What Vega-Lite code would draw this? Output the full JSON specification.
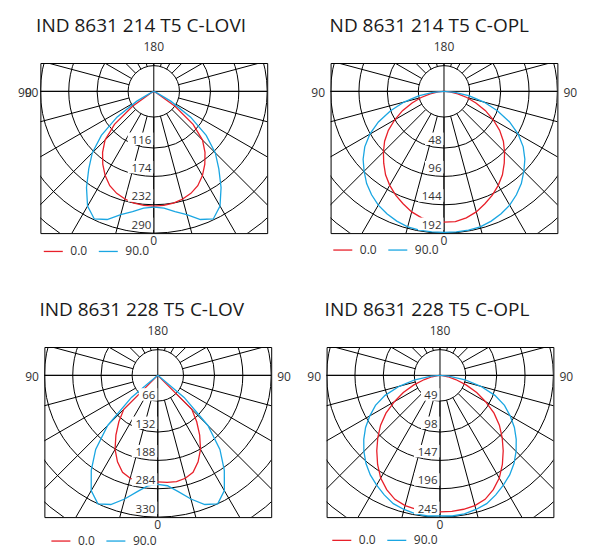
{
"$schema": "https://vega.github.io/schema/vega-lite/v6.json",
"padding": {"left": 17, "top": 16, "right": 0, "bottom": 0},
"background": "white",
"config": {"view": {"stroke": "black", "strokeWidth": 1}, "text": {"font": "Open Sans"}},
"datasets": {
 "rings": [{"k": 0.9065}, {"k": 2}, {"k": 3}, {"k": 4}, {"k": 5}, {"k": 6}],
 "spokes": [{"a":0},{"a":15},{"a":30},{"a":45},{"a":60},{"a":75},{"a":90},{"a":105},{"a":120},{"a":135},{"a":150},{"a":165},{"a":180},{"a":195},{"a":210},{"a":225},{"a":240},{"a":255},{"a":270},{"a":285},{"a":300},{"a":315},{"a":330},{"a":345}],
 "one": [{}],
 "c1": [
  {"g":0,"I":235,"c":"0.0"},{"g":5,"I":234,"c":"0.0"},{"g":10,"I":232,"c":"0.0"},{"g":15,"I":228,"c":"0.0"},{"g":20,"I":222,"c":"0.0"},{"g":25,"I":213,"c":"0.0"},{"g":30,"I":199,"c":"0.0"},{"g":35,"I":182,"c":"0.0"},{"g":40,"I":163,"c":"0.0"},{"g":45,"I":141,"c":"0.0"},{"g":50,"I":105,"c":"0.0"},{"g":55,"I":53,"c":"0.0"},{"g":60,"I":5,"c":"0.0"},{"g":65,"I":0,"c":"0.0"},{"g":70,"I":0,"c":"0.0"},{"g":75,"I":0,"c":"0.0"},{"g":80,"I":0,"c":"0.0"},{"g":85,"I":0,"c":"0.0"},{"g":90,"I":0,"c":"0.0"},
  {"g":0,"I":237,"c":"90.0"},{"g":5,"I":240,"c":"90.0"},{"g":10,"I":250,"c":"90.0"},{"g":15,"I":261,"c":"90.0"},{"g":20,"I":279,"c":"90.0"},{"g":25,"I":288,"c":"90.0"},{"g":30,"I":271,"c":"90.0"},{"g":35,"I":240,"c":"90.0"},{"g":40,"I":207,"c":"90.0"},{"g":45,"I":178,"c":"90.0"},{"g":50,"I":140,"c":"90.0"},{"g":55,"I":92,"c":"90.0"},{"g":60,"I":40,"c":"90.0"},{"g":65,"I":5,"c":"90.0"},{"g":70,"I":0,"c":"90.0"},{"g":75,"I":0,"c":"90.0"},{"g":80,"I":0,"c":"90.0"},{"g":85,"I":0,"c":"90.0"},{"g":90,"I":0,"c":"90.0"}],
 "c2": [
  {"g":0,"I":177,"c":"0.0"},{"g":5,"I":177,"c":"0.0"},{"g":10,"I":174,"c":"0.0"},{"g":15,"I":169,"c":"0.0"},{"g":20,"I":162,"c":"0.0"},{"g":25,"I":155,"c":"0.0"},{"g":30,"I":147,"c":"0.0"},{"g":35,"I":138,"c":"0.0"},{"g":40,"I":127,"c":"0.0"},{"g":45,"I":116,"c":"0.0"},{"g":50,"I":105,"c":"0.0"},{"g":55,"I":92,"c":"0.0"},{"g":60,"I":77,"c":"0.0"},{"g":65,"I":62,"c":"0.0"},{"g":70,"I":46,"c":"0.0"},{"g":75,"I":32,"c":"0.0"},{"g":80,"I":19,"c":"0.0"},{"g":85,"I":8,"c":"0.0"},{"g":90,"I":0,"c":"0.0"},
  {"g":0,"I":191,"c":"90.0"},{"g":5,"I":191,"c":"90.0"},{"g":10,"I":191,"c":"90.0"},{"g":15,"I":190,"c":"90.0"},{"g":20,"I":187,"c":"90.0"},{"g":25,"I":183,"c":"90.0"},{"g":30,"I":178,"c":"90.0"},{"g":35,"I":171,"c":"90.0"},{"g":40,"I":163,"c":"90.0"},{"g":45,"I":153,"c":"90.0"},{"g":50,"I":143,"c":"90.0"},{"g":55,"I":131,"c":"90.0"},{"g":60,"I":116,"c":"90.0"},{"g":65,"I":98,"c":"90.0"},{"g":70,"I":77,"c":"90.0"},{"g":75,"I":56,"c":"90.0"},{"g":80,"I":35,"c":"90.0"},{"g":85,"I":15,"c":"90.0"},{"g":90,"I":0,"c":"90.0"}],
 "c3": [
  {"g":0,"I":248,"c":"0.0"},{"g":5,"I":250,"c":"0.0"},{"g":10,"I":251,"c":"0.0"},{"g":15,"I":248,"c":"0.0"},{"g":20,"I":240,"c":"0.0"},{"g":25,"I":222,"c":"0.0"},{"g":30,"I":199,"c":"0.0"},{"g":35,"I":170,"c":"0.0"},{"g":40,"I":141,"c":"0.0"},{"g":45,"I":112,"c":"0.0"},{"g":50,"I":0,"c":"0.0"},{"g":55,"I":0,"c":"0.0"},{"g":60,"I":0,"c":"0.0"},{"g":65,"I":0,"c":"0.0"},{"g":70,"I":0,"c":"0.0"},{"g":75,"I":0,"c":"0.0"},{"g":80,"I":0,"c":"0.0"},{"g":85,"I":0,"c":"0.0"},{"g":90,"I":0,"c":"0.0"},
  {"g":0,"I":254,"c":"90.0"},{"g":5,"I":258,"c":"90.0"},{"g":10,"I":275,"c":"90.0"},{"g":15,"I":298,"c":"90.0"},{"g":20,"I":320,"c":"90.0"},{"g":25,"I":330,"c":"90.0"},{"g":30,"I":310,"c":"90.0"},{"g":35,"I":270,"c":"90.0"},{"g":40,"I":225,"c":"90.0"},{"g":45,"I":165,"c":"90.0"},{"g":50,"I":80,"c":"90.0"},{"g":55,"I":0,"c":"90.0"},{"g":60,"I":0,"c":"90.0"},{"g":65,"I":0,"c":"90.0"},{"g":70,"I":0,"c":"90.0"},{"g":75,"I":0,"c":"90.0"},{"g":80,"I":0,"c":"90.0"},{"g":85,"I":0,"c":"90.0"},{"g":90,"I":0,"c":"90.0"}],
 "c4": [
  {"g":0,"I":236,"c":"0.0"},{"g":5,"I":236,"c":"0.0"},{"g":10,"I":235,"c":"0.0"},{"g":15,"I":233,"c":"0.0"},{"g":20,"I":228,"c":"0.0"},{"g":25,"I":218,"c":"0.0"},{"g":30,"I":205,"c":"0.0"},{"g":35,"I":188,"c":"0.0"},{"g":40,"I":170,"c":"0.0"},{"g":45,"I":152,"c":"0.0"},{"g":50,"I":134,"c":"0.0"},{"g":55,"I":114,"c":"0.0"},{"g":60,"I":91,"c":"0.0"},{"g":65,"I":70,"c":"0.0"},{"g":70,"I":48,"c":"0.0"},{"g":75,"I":28,"c":"0.0"},{"g":80,"I":14,"c":"0.0"},{"g":85,"I":4,"c":"0.0"},{"g":90,"I":0,"c":"0.0"},
  {"g":0,"I":243,"c":"90.0"},{"g":5,"I":244,"c":"90.0"},{"g":10,"I":243,"c":"90.0"},{"g":15,"I":240,"c":"90.0"},{"g":20,"I":236,"c":"90.0"},{"g":25,"I":228,"c":"90.0"},{"g":30,"I":219,"c":"90.0"},{"g":35,"I":210,"c":"90.0"},{"g":40,"I":199,"c":"90.0"},{"g":45,"I":186,"c":"90.0"},{"g":50,"I":172,"c":"90.0"},{"g":55,"I":157,"c":"90.0"},{"g":60,"I":140,"c":"90.0"},{"g":65,"I":123,"c":"90.0"},{"g":70,"I":101,"c":"90.0"},{"g":75,"I":73,"c":"90.0"},{"g":80,"I":44,"c":"90.0"},{"g":85,"I":15,"c":"90.0"},{"g":90,"I":0,"c":"90.0"}],
 "l1": [{"r":116,"t":"116"},{"r":174,"t":"174"},{"r":232,"t":"232"},{"r":290,"t":"290"}],
 "l2": [{"r":76.8,"t":"48"},{"r":115.2,"t":"96"},{"r":153.6,"t":"144"},{"r":192,"t":"192"}],
 "l3": [{"r":66,"t":"66"},{"r":132,"t":"132"},{"r":198,"t":"188"},{"r":264,"t":"284"},{"r":330,"t":"330"}],
 "l4": [{"r":49,"t":"49"},{"r":98,"t":"98"},{"r":147,"t":"147"},{"r":196,"t":"196"},{"r":245,"t":"245"}]
},
"resolve": {"legend": {"color": "independent"}},
"spacing": 41,
"center": true,
"vconcat": [
{"hconcat": [
 {"width": 226.8, "height": 170.1,
  "title": {"text": "IND 8631 214 T5 C-LOVI", "anchor": "start", "frame": "group", "dx": -4.3, "offset": -10, "fontSize": 19, "font": "Open Sans", "fontWeight": "normal", "color": "#1a1a1a", "baseline": "alphabetic"},
  "layer": [
   {"data": {"name": "rings"}, "mark": {"type": "point", "shape": "circle", "filled": false, "stroke": "black", "strokeWidth": 1, "opacity": 1, "clip": true},
    "encoding": {"x": {"datum": 0, "type": "quantitative", "scale": {"domain": [-232, 232], "nice": false, "zero": false}, "axis": null},
     "y": {"datum": 0, "type": "quantitative", "scale": {"domain": [-58, 290], "nice": false, "zero": false, "reverse": true}, "axis": null},
     "size": {"field": "k", "type": "quantitative", "scale": {"type": "pow", "exponent": 2, "domain": [0, 6], "range": [0, 115736]}, "legend": null}}},
   {"data": {"name": "spokes"}, "transform": [
     {"calculate": "52.58*sin(datum.a*PI/180)", "as": "x1"}, {"calculate": "52.58*cos(datum.a*PI/180)", "as": "y1"},
     {"calculate": "406*sin(datum.a*PI/180)", "as": "x2"}, {"calculate": "406*cos(datum.a*PI/180)", "as": "y2"}],
    "mark": {"type": "rule", "color": "black", "strokeWidth": 1, "clip": true},
    "encoding": {"x": {"field": "x1", "type": "quantitative", "axis": null}, "y": {"field": "y1", "type": "quantitative", "axis": null}, "x2": {"field": "x2"}, "y2": {"field": "y2"}}},
   {"data": {"name": "one"}, "mark": {"type": "rule", "color": "black", "strokeWidth": 1}, "encoding": {"y": {"datum": 0, "type": "quantitative", "axis": null}}},
   {"data": {"name": "one"}, "mark": {"type": "rule", "color": "black", "strokeWidth": 1}, "encoding": {"x": {"datum": 0, "type": "quantitative", "axis": null}}},
   {"data": {"name": "c1"}, "transform": [
     {"calculate": "datum.I*sin(datum.g*PI/180)", "as": "R"}, {"calculate": "-datum.I*sin(datum.g*PI/180)", "as": "L"},
     {"calculate": "datum.I*cos(datum.g*PI/180)", "as": "y"}, {"fold": ["R", "L"], "as": ["side", "x"]}],
    "mark": {"type": "line", "strokeWidth": 1.3, "clip": true},
    "encoding": {"x": {"field": "x", "type": "quantitative", "axis": null}, "y": {"field": "y", "type": "quantitative", "axis": null},
     "color": {"field": "c", "type": "nominal", "scale": {"domain": ["0.0", "90.0"], "range": ["#e8202a", "#1aa6e2"]},
      "legend": {"orient": "none", "legendX": 2.4, "legendY": 177.7, "direction": "horizontal", "title": null, "symbolType": "stroke", "symbolSize": 361, "symbolStrokeWidth": 1.3, "labelFontSize": 12, "labelFont": "Open Sans", "labelColor": "#333", "labelOffset": 6.5, "columnPadding": 8, "padding": 0}},
     "detail": {"field": "side", "type": "nominal"}, "order": {"field": "g", "type": "quantitative"}}},
   {"data": {"name": "l1"}, "mark": {"type": "point", "filled": true, "fill": "white", "strokeWidth": 0, "opacity": 1, "size": 4},
    "encoding": {"x": {"datum": 0, "type": "quantitative", "axis": null}, "y": {"field": "r", "type": "quantitative", "axis": null},
     "shape": {"condition": {"test": "length(datum.t) > 2", "value": "M-26,-15.5H-0.5V-3H-26Z"}, "value": "M-19,-15.5H-0.5V-3H-19Z"}}},
   {"data": {"name": "l1"}, "mark": {"type": "text", "align": "right", "baseline": "alphabetic", "dx": -2.5, "dy": -4.5, "fontSize": 11.5, "font": "Open Sans", "color": "#333"},
    "encoding": {"x": {"datum": 0, "type": "quantitative", "axis": null}, "y": {"field": "r", "type": "quantitative", "axis": null}, "text": {"field": "t"}}},
   {"data": {"name": "one"}, "mark": {"type": "text", "baseline": "alphabetic", "dy": -12.5, "fontSize": 12, "font": "Open Sans", "color": "#333"},
    "encoding": {"x": {"datum": 0, "type": "quantitative", "axis": null}, "y": {"datum": -58, "type": "quantitative", "axis": null}, "text": {"value": "180"}}},
   {"data": {"name": "one"}, "mark": {"type": "text", "baseline": "alphabetic", "dy": 11.8, "fontSize": 12, "font": "Open Sans", "color": "#333"},
    "encoding": {"x": {"datum": 0, "type": "quantitative", "axis": null}, "y": {"datum": 290, "type": "quantitative", "axis": null}, "text": {"value": "0"}}},
   {"data": {"name": "one"}, "mark": {"type": "text", "align": "right", "baseline": "alphabetic", "dx": -2, "dy": 5.3, "fontSize": 12, "font": "Open Sans", "color": "#333"},
    "encoding": {"x": {"datum": -232, "type": "quantitative", "axis": null}, "y": {"datum": 0, "type": "quantitative", "axis": null}, "text": {"value": "90"}}},
   {"data": {"name": "one"}, "mark": {"type": "text", "align": "right", "baseline": "alphabetic", "dx": -8.6, "dy": 5.3, "fontSize": 12, "font": "Open Sans", "color": "#333"},
    "encoding": {"x": {"datum": -232, "type": "quantitative", "axis": null}, "y": {"datum": 0, "type": "quantitative", "axis": null}, "text": {"value": "90"}}}
  ]},
 {"width": 226.8, "height": 170.1,
  "title": {"text": "ND 8631 214 T5 C-OPL", "anchor": "start", "frame": "group", "dx": -1, "offset": -10, "fontSize": 19, "font": "Open Sans", "fontWeight": "normal", "color": "#1a1a1a", "baseline": "alphabetic"},
  "layer": [
   {"data": {"name": "rings"}, "mark": {"type": "point", "shape": "circle", "filled": false, "stroke": "black", "strokeWidth": 1, "opacity": 1, "clip": true},
    "encoding": {"x": {"datum": 0, "type": "quantitative", "scale": {"domain": [-153.6, 153.6], "nice": false, "zero": false}, "axis": null},
     "y": {"datum": 0, "type": "quantitative", "scale": {"domain": [-38.4, 192], "nice": false, "zero": false, "reverse": true}, "axis": null},
     "size": {"field": "k", "type": "quantitative", "scale": {"type": "pow", "exponent": 2, "domain": [0, 6], "range": [0, 115736]}, "legend": null}}},
   {"data": {"name": "spokes"}, "transform": [
     {"calculate": "34.81*sin(datum.a*PI/180)", "as": "x1"}, {"calculate": "34.81*cos(datum.a*PI/180)", "as": "y1"},
     {"calculate": "268.8*sin(datum.a*PI/180)", "as": "x2"}, {"calculate": "268.8*cos(datum.a*PI/180)", "as": "y2"}],
    "mark": {"type": "rule", "color": "black", "strokeWidth": 1, "clip": true},
    "encoding": {"x": {"field": "x1", "type": "quantitative", "axis": null}, "y": {"field": "y1", "type": "quantitative", "axis": null}, "x2": {"field": "x2"}, "y2": {"field": "y2"}}},
   {"data": {"name": "one"}, "mark": {"type": "rule", "color": "black", "strokeWidth": 1}, "encoding": {"y": {"datum": 0, "type": "quantitative", "axis": null}}},
   {"data": {"name": "one"}, "mark": {"type": "rule", "color": "black", "strokeWidth": 1}, "encoding": {"x": {"datum": 0, "type": "quantitative", "axis": null}}},
   {"data": {"name": "c2"}, "transform": [
     {"calculate": "datum.I*sin(datum.g*PI/180)", "as": "R"}, {"calculate": "-datum.I*sin(datum.g*PI/180)", "as": "L"},
     {"calculate": "datum.I*cos(datum.g*PI/180)", "as": "y"}, {"fold": ["R", "L"], "as": ["side", "x"]}],
    "mark": {"type": "line", "strokeWidth": 1.3, "clip": true},
    "encoding": {"x": {"field": "x", "type": "quantitative", "axis": null}, "y": {"field": "y", "type": "quantitative", "axis": null},
     "color": {"field": "c", "type": "nominal", "scale": {"domain": ["0.0", "90.0"], "range": ["#e8202a", "#1aa6e2"]},
      "legend": {"orient": "none", "legendX": 1.7, "legendY": 176.3, "direction": "horizontal", "title": null, "symbolType": "stroke", "symbolSize": 361, "symbolStrokeWidth": 1.3, "labelFontSize": 12, "labelFont": "Open Sans", "labelColor": "#333", "labelOffset": 6.5, "columnPadding": 8, "padding": 0}},
     "detail": {"field": "side", "type": "nominal"}, "order": {"field": "g", "type": "quantitative"}}},
   {"data": {"name": "l2"}, "mark": {"type": "point", "filled": true, "fill": "white", "strokeWidth": 0, "opacity": 1, "size": 4},
    "encoding": {"x": {"datum": 0, "type": "quantitative", "axis": null}, "y": {"field": "r", "type": "quantitative", "axis": null},
     "shape": {"condition": {"test": "length(datum.t) > 2", "value": "M-26,-15.5H-0.5V-3H-26Z"}, "value": "M-19,-15.5H-0.5V-3H-19Z"}}},
   {"data": {"name": "l2"}, "mark": {"type": "text", "align": "right", "baseline": "alphabetic", "dx": -2.5, "dy": -4.5, "fontSize": 11.5, "font": "Open Sans", "color": "#333"},
    "encoding": {"x": {"datum": 0, "type": "quantitative", "axis": null}, "y": {"field": "r", "type": "quantitative", "axis": null}, "text": {"field": "t"}}},
   {"data": {"name": "one"}, "mark": {"type": "text", "baseline": "alphabetic", "dy": -12.5, "fontSize": 12, "font": "Open Sans", "color": "#333"},
    "encoding": {"x": {"datum": 0, "type": "quantitative", "axis": null}, "y": {"datum": -38.4, "type": "quantitative", "axis": null}, "text": {"value": "180"}}},
   {"data": {"name": "one"}, "mark": {"type": "text", "baseline": "alphabetic", "dy": 11.8, "fontSize": 12, "font": "Open Sans", "color": "#333"},
    "encoding": {"x": {"datum": 0, "type": "quantitative", "axis": null}, "y": {"datum": 192, "type": "quantitative", "axis": null}, "text": {"value": "0"}}},
   {"data": {"name": "one"}, "mark": {"type": "text", "align": "right", "baseline": "alphabetic", "dx": -5.5, "dy": 5.3, "fontSize": 12, "font": "Open Sans", "color": "#333"},
    "encoding": {"x": {"datum": -153.6, "type": "quantitative", "axis": null}, "y": {"datum": 0, "type": "quantitative", "axis": null}, "text": {"value": "90"}}},
   {"data": {"name": "one"}, "mark": {"type": "text", "align": "left", "baseline": "alphabetic", "dx": 6, "dy": 5.3, "fontSize": 12, "font": "Open Sans", "color": "#333"},
    "encoding": {"x": {"datum": 153.6, "type": "quantitative", "axis": null}, "y": {"datum": 0, "type": "quantitative", "axis": null}, "text": {"value": "90"}}}
  ]}
 ], "spacing": 63.2, "bounds": "flush", "resolve": {"legend": {"color": "independent"}}},
{"hconcat": [
 {"width": 226.8, "height": 170.1,
  "title": {"text": "IND 8631 228 T5 C-LOV", "anchor": "start", "frame": "group", "dx": -5, "offset": -10, "fontSize": 19, "font": "Open Sans", "fontWeight": "normal", "color": "#1a1a1a", "baseline": "alphabetic"},
  "layer": [
   {"data": {"name": "rings"}, "mark": {"type": "point", "shape": "circle", "filled": false, "stroke": "black", "strokeWidth": 1, "opacity": 1, "clip": true},
    "encoding": {"x": {"datum": 0, "type": "quantitative", "scale": {"domain": [-264, 264], "nice": false, "zero": false}, "axis": null},
     "y": {"datum": 0, "type": "quantitative", "scale": {"domain": [-66, 330], "nice": false, "zero": false, "reverse": true}, "axis": null},
     "size": {"field": "k", "type": "quantitative", "scale": {"type": "pow", "exponent": 2, "domain": [0, 6], "range": [0, 115736]}, "legend": null}}},
   {"data": {"name": "spokes"}, "transform": [
     {"calculate": "59.83*sin(datum.a*PI/180)", "as": "x1"}, {"calculate": "59.83*cos(datum.a*PI/180)", "as": "y1"},
     {"calculate": "462*sin(datum.a*PI/180)", "as": "x2"}, {"calculate": "462*cos(datum.a*PI/180)", "as": "y2"}],
    "mark": {"type": "rule", "color": "black", "strokeWidth": 1, "clip": true},
    "encoding": {"x": {"field": "x1", "type": "quantitative", "axis": null}, "y": {"field": "y1", "type": "quantitative", "axis": null}, "x2": {"field": "x2"}, "y2": {"field": "y2"}}},
   {"data": {"name": "one"}, "mark": {"type": "rule", "color": "black", "strokeWidth": 1}, "encoding": {"y": {"datum": 0, "type": "quantitative", "axis": null}}},
   {"data": {"name": "one"}, "mark": {"type": "rule", "color": "black", "strokeWidth": 1}, "encoding": {"x": {"datum": 0, "type": "quantitative", "axis": null}}},
   {"data": {"name": "c3"}, "transform": [
     {"calculate": "datum.I*sin(datum.g*PI/180)", "as": "R"}, {"calculate": "-datum.I*sin(datum.g*PI/180)", "as": "L"},
     {"calculate": "datum.I*cos(datum.g*PI/180)", "as": "y"}, {"fold": ["R", "L"], "as": ["side", "x"]}],
    "mark": {"type": "line", "strokeWidth": 1.3, "clip": true},
    "encoding": {"x": {"field": "x", "type": "quantitative", "axis": null}, "y": {"field": "y", "type": "quantitative", "axis": null},
     "color": {"field": "c", "type": "nominal", "scale": {"domain": ["0.0", "90.0"], "range": ["#e8202a", "#1aa6e2"]},
      "legend": {"orient": "none", "legendX": 6, "legendY": 183.3, "direction": "horizontal", "title": null, "symbolType": "stroke", "symbolSize": 361, "symbolStrokeWidth": 1.3, "labelFontSize": 12, "labelFont": "Open Sans", "labelColor": "#333", "labelOffset": 6.5, "columnPadding": 8, "padding": 0}},
     "detail": {"field": "side", "type": "nominal"}, "order": {"field": "g", "type": "quantitative"}}},
   {"data": {"name": "l3"}, "mark": {"type": "point", "filled": true, "fill": "white", "strokeWidth": 0, "opacity": 1, "size": 4},
    "encoding": {"x": {"datum": 0, "type": "quantitative", "axis": null}, "y": {"field": "r", "type": "quantitative", "axis": null},
     "shape": {"condition": {"test": "length(datum.t) > 2", "value": "M-26,-15.5H-0.5V-3H-26Z"}, "value": "M-19,-15.5H-0.5V-3H-19Z"}}},
   {"data": {"name": "l3"}, "mark": {"type": "text", "align": "right", "baseline": "alphabetic", "dx": -2.5, "dy": -4.5, "fontSize": 11.5, "font": "Open Sans", "color": "#333"},
    "encoding": {"x": {"datum": 0, "type": "quantitative", "axis": null}, "y": {"field": "r", "type": "quantitative", "axis": null}, "text": {"field": "t"}}},
   {"data": {"name": "one"}, "mark": {"type": "text", "baseline": "alphabetic", "dy": -12.5, "fontSize": 12, "font": "Open Sans", "color": "#333"},
    "encoding": {"x": {"datum": 0, "type": "quantitative", "axis": null}, "y": {"datum": -66, "type": "quantitative", "axis": null}, "text": {"value": "180"}}},
   {"data": {"name": "one"}, "mark": {"type": "text", "baseline": "alphabetic", "dy": 11.8, "fontSize": 12, "font": "Open Sans", "color": "#333"},
    "encoding": {"x": {"datum": 0, "type": "quantitative", "axis": null}, "y": {"datum": 330, "type": "quantitative", "axis": null}, "text": {"value": "0"}}},
   {"data": {"name": "one"}, "mark": {"type": "text", "align": "right", "baseline": "alphabetic", "dx": -5.5, "dy": 5.3, "fontSize": 12, "font": "Open Sans", "color": "#333"},
    "encoding": {"x": {"datum": -264, "type": "quantitative", "axis": null}, "y": {"datum": 0, "type": "quantitative", "axis": null}, "text": {"value": "90"}}},
   {"data": {"name": "one"}, "mark": {"type": "text", "align": "left", "baseline": "alphabetic", "dx": 6, "dy": 5.3, "fontSize": 12, "font": "Open Sans", "color": "#333"},
    "encoding": {"x": {"datum": 264, "type": "quantitative", "axis": null}, "y": {"datum": 0, "type": "quantitative", "axis": null}, "text": {"value": "90"}}}
  ]},
 {"width": 226.8, "height": 170.1,
  "title": {"text": "IND 8631 228 T5 C-OPL", "anchor": "start", "frame": "group", "dx": -2, "offset": -10, "fontSize": 19, "font": "Open Sans", "fontWeight": "normal", "color": "#1a1a1a", "baseline": "alphabetic"},
  "layer": [
   {"data": {"name": "rings"}, "mark": {"type": "point", "shape": "circle", "filled": false, "stroke": "black", "strokeWidth": 1, "opacity": 1, "clip": true},
    "encoding": {"x": {"datum": 0, "type": "quantitative", "scale": {"domain": [-196, 196], "nice": false, "zero": false}, "axis": null},
     "y": {"datum": 0, "type": "quantitative", "scale": {"domain": [-49, 245], "nice": false, "zero": false, "reverse": true}, "axis": null},
     "size": {"field": "k", "type": "quantitative", "scale": {"type": "pow", "exponent": 2, "domain": [0, 6], "range": [0, 115736]}, "legend": null}}},
   {"data": {"name": "spokes"}, "transform": [
     {"calculate": "44.42*sin(datum.a*PI/180)", "as": "x1"}, {"calculate": "44.42*cos(datum.a*PI/180)", "as": "y1"},
     {"calculate": "343*sin(datum.a*PI/180)", "as": "x2"}, {"calculate": "343*cos(datum.a*PI/180)", "as": "y2"}],
    "mark": {"type": "rule", "color": "black", "strokeWidth": 1, "clip": true},
    "encoding": {"x": {"field": "x1", "type": "quantitative", "axis": null}, "y": {"field": "y1", "type": "quantitative", "axis": null}, "x2": {"field": "x2"}, "y2": {"field": "y2"}}},
   {"data": {"name": "one"}, "mark": {"type": "rule", "color": "black", "strokeWidth": 1}, "encoding": {"y": {"datum": 0, "type": "quantitative", "axis": null}}},
   {"data": {"name": "one"}, "mark": {"type": "rule", "color": "black", "strokeWidth": 1}, "encoding": {"x": {"datum": 0, "type": "quantitative", "axis": null}}},
   {"data": {"name": "c4"}, "transform": [
     {"calculate": "datum.I*sin(datum.g*PI/180)", "as": "R"}, {"calculate": "-datum.I*sin(datum.g*PI/180)", "as": "L"},
     {"calculate": "datum.I*cos(datum.g*PI/180)", "as": "y"}, {"fold": ["R", "L"], "as": ["side", "x"]}],
    "mark": {"type": "line", "strokeWidth": 1.3, "clip": true},
    "encoding": {"x": {"field": "x", "type": "quantitative", "axis": null}, "y": {"field": "y", "type": "quantitative", "axis": null},
     "color": {"field": "c", "type": "nominal", "scale": {"domain": ["0.0", "90.0"], "range": ["#e8202a", "#1aa6e2"]},
      "legend": {"orient": "none", "legendX": 4.7, "legendY": 182.6, "direction": "horizontal", "title": null, "symbolType": "stroke", "symbolSize": 361, "symbolStrokeWidth": 1.3, "labelFontSize": 12, "labelFont": "Open Sans", "labelColor": "#333", "labelOffset": 6.5, "columnPadding": 8, "padding": 0}},
     "detail": {"field": "side", "type": "nominal"}, "order": {"field": "g", "type": "quantitative"}}},
   {"data": {"name": "l4"}, "mark": {"type": "point", "filled": true, "fill": "white", "strokeWidth": 0, "opacity": 1, "size": 4},
    "encoding": {"x": {"datum": 0, "type": "quantitative", "axis": null}, "y": {"field": "r", "type": "quantitative", "axis": null},
     "shape": {"condition": {"test": "length(datum.t) > 2", "value": "M-26,-15.5H-0.5V-3H-26Z"}, "value": "M-19,-15.5H-0.5V-3H-19Z"}}},
   {"data": {"name": "l4"}, "mark": {"type": "text", "align": "right", "baseline": "alphabetic", "dx": -2.5, "dy": -4.5, "fontSize": 11.5, "font": "Open Sans", "color": "#333"},
    "encoding": {"x": {"datum": 0, "type": "quantitative", "axis": null}, "y": {"field": "r", "type": "quantitative", "axis": null}, "text": {"field": "t"}}},
   {"data": {"name": "one"}, "mark": {"type": "text", "baseline": "alphabetic", "dy": -12.5, "fontSize": 12, "font": "Open Sans", "color": "#333"},
    "encoding": {"x": {"datum": 0, "type": "quantitative", "axis": null}, "y": {"datum": -49, "type": "quantitative", "axis": null}, "text": {"value": "180"}}},
   {"data": {"name": "one"}, "mark": {"type": "text", "baseline": "alphabetic", "dy": 11.8, "fontSize": 12, "font": "Open Sans", "color": "#333"},
    "encoding": {"x": {"datum": 0, "type": "quantitative", "axis": null}, "y": {"datum": 245, "type": "quantitative", "axis": null}, "text": {"value": "0"}}},
   {"data": {"name": "one"}, "mark": {"type": "text", "align": "right", "baseline": "alphabetic", "dx": -5.5, "dy": 5.3, "fontSize": 12, "font": "Open Sans", "color": "#333"},
    "encoding": {"x": {"datum": -196, "type": "quantitative", "axis": null}, "y": {"datum": 0, "type": "quantitative", "axis": null}, "text": {"value": "90"}}},
   {"data": {"name": "one"}, "mark": {"type": "text", "align": "left", "baseline": "alphabetic", "dx": 6, "dy": 5.3, "fontSize": 12, "font": "Open Sans", "color": "#333"},
    "encoding": {"x": {"datum": 196, "type": "quantitative", "axis": null}, "y": {"datum": 0, "type": "quantitative", "axis": null}, "text": {"value": "90"}}}
  ]}
 ], "spacing": 55.2, "bounds": "flush", "resolve": {"legend": {"color": "independent"}}}
]
}
